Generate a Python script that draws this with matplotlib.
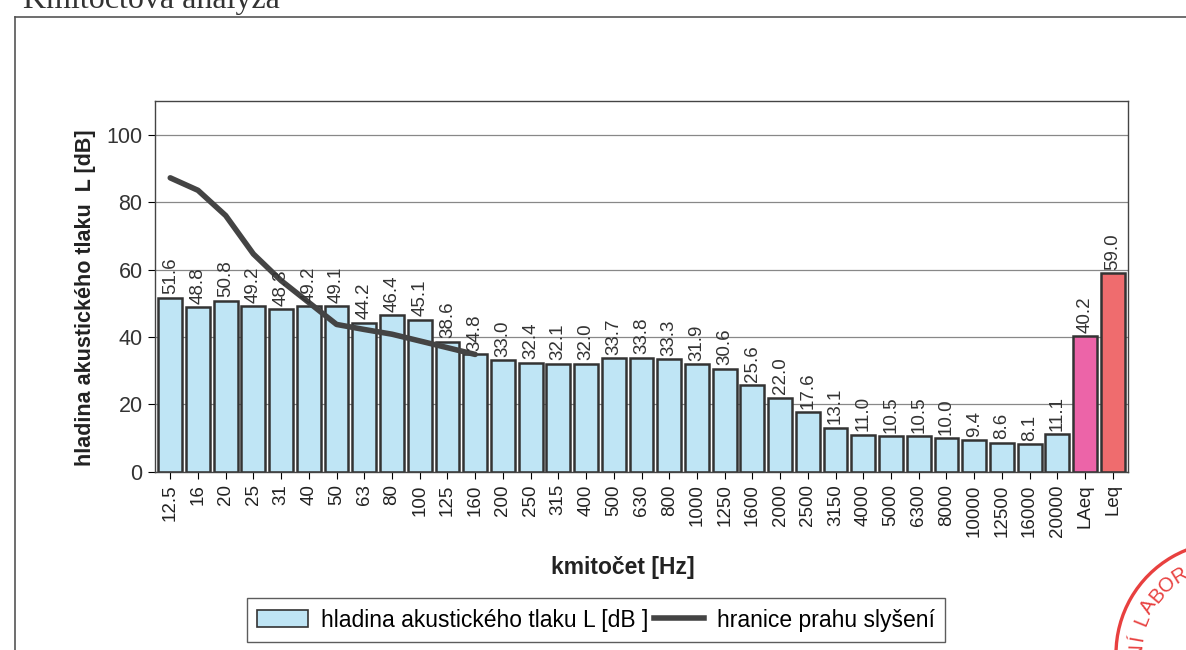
import numpy as np
import matplotlib
matplotlib.use("Agg")
import matplotlib.pyplot as plt
from matplotlib.patches import Patch, Arc
from matplotlib.lines import Line2D

plt.rcParams['font.family'] = ['Liberation Sans', 'DejaVu Sans']

freqs = ['12.5', '16', '20', '25', '31', '40', '50', '63', '80', '100', '125', '160',
         '200', '250', '315', '400', '500', '630', '800', '1000', '1250', '1600',
         '2000', '2500', '3150', '4000', '5000', '6300', '8000', '10000', '12500',
         '16000', '20000', 'LAeq', 'Leq']
levels = [51.6, 48.8, 50.8, 49.2, 48.3, 49.2, 49.1, 44.2, 46.4, 45.1, 38.6, 34.8,
          33.0, 32.4, 32.1, 32.0, 33.7, 33.8, 33.3, 31.9, 30.6, 25.6, 22.0, 17.6,
          13.1, 11.0, 10.5, 10.5, 10.0, 9.4, 8.6, 8.1, 11.1, 40.2, 59.0]
# hearing threshold, first 12 bands only
threshold = [87.2, 83.5, 76.0, 64.6, 56.7, 50.2, 43.7, 42.2, 40.8, 38.8, 36.8, 34.8]

blue = '#bfe5f5'
colors = [blue] * 33 + ['#ec64a8', '#ef6c6e']
ink = '#333333'

fig = plt.figure(figsize=(11.86, 6.5), dpi=100)

# outer frame of the scanned page
fig.add_artist(Line2D([15/1186, 1.0], [1 - 17/650, 1 - 17/650], color='#555555', lw=1.2))
fig.add_artist(Line2D([15/1186, 15/1186], [0, 1 - 17/650], color='#555555', lw=1.2))
fig.text(23/1186, 1 - 8/650, 'Kmitočtová analýza', family='Liberation Serif',
         fontsize=23, color='#333333', va='baseline')

ax = fig.add_axes([155/1186, 1 - 471.7/650, (1128 - 155)/1186, (471.7 - 101)/650])
x = np.arange(len(freqs))
ax.bar(x, levels, width=0.86, color=colors, edgecolor=ink, linewidth=1.8, zorder=2)
ax.plot(x[:len(threshold)], threshold, color='#444444', lw=4, solid_capstyle='round', zorder=3)

for xi, v in zip(x, levels):
    ax.text(xi, v + 1.0, '%.1f' % v, rotation=90, ha='center', va='bottom',
            fontsize=13.5, color=ink, zorder=4)

ax.set_xlim(-0.55, len(freqs) - 0.45)
ax.set_ylim(0, 110)
ax.set_yticks([0, 20, 40, 60, 80, 100])
ax.yaxis.grid(True, color='#888888', lw=0.9, zorder=0)
ax.set_axisbelow(True)
ax.set_xticks(x)
ax.set_xticklabels(freqs, rotation=90, fontsize=13.5, color='#222222')
ax.tick_params(axis='y', labelsize=15.5, labelcolor=ink, direction='out', length=5, pad=4)
ax.tick_params(axis='x', direction='out', length=5, pad=4)
for s in ax.spines.values():
    s.set_color('#444444')
    s.set_linewidth(1.0)

ax.set_ylabel('hladina akustického tlaku  L [dB]', fontsize=15.5, fontweight='bold', color='#222222')
ax.yaxis.set_label_coords(-59/973, 0.47)
ax.set_xlabel('kmitočet [Hz]', fontsize=16.5, fontweight='bold', color='#222222')
ax.xaxis.set_label_coords((623 - 155)/973, -84/370.7)

handles = [Patch(facecolor=blue, edgecolor=ink, linewidth=1.2),
           Line2D([0], [0], color='#444444', lw=4)]
leg = fig.legend(handles, ['hladina akustického tlaku L [dB ]', 'hranice prahu slyšení'],
                 loc='center', bbox_to_anchor=(596/1186, 1 - 620/650), ncol=2,
                 fontsize=16.5, frameon=True, fancybox=False, handlelength=2.2,
                 columnspacing=0.25, handletextpad=0.55, borderpad=0.45)
leg.get_frame().set_edgecolor(ink)
leg.get_frame().set_linewidth(1.0)

# partial red stamp in the corner, drawn in pixel coordinates
over = fig.add_axes([0, 0, 1, 1], zorder=5)
over.set_xlim(0, 1186)
over.set_ylim(650, 0)
over.axis('off')
over.patch.set_alpha(0)
cx, cy, r = 1228, 654, 112
red = '#e8403f'
over.add_patch(Arc((cx, cy), 2*r, 2*r, theta1=180, theta2=300, color=red, lw=2.4))
for ch, ang in zip('NÍ LABORA', [178, 170, 164, 158, 149, 140, 131, 122, 113]):
    a = np.deg2rad(ang)
    over.text(cx + 92*np.cos(a), cy - 92*np.sin(a), ch, rotation=ang - 90,
              ha='center', va='center', fontsize=14.5, color=red)

fig.savefig('out.png', dpi=100)
